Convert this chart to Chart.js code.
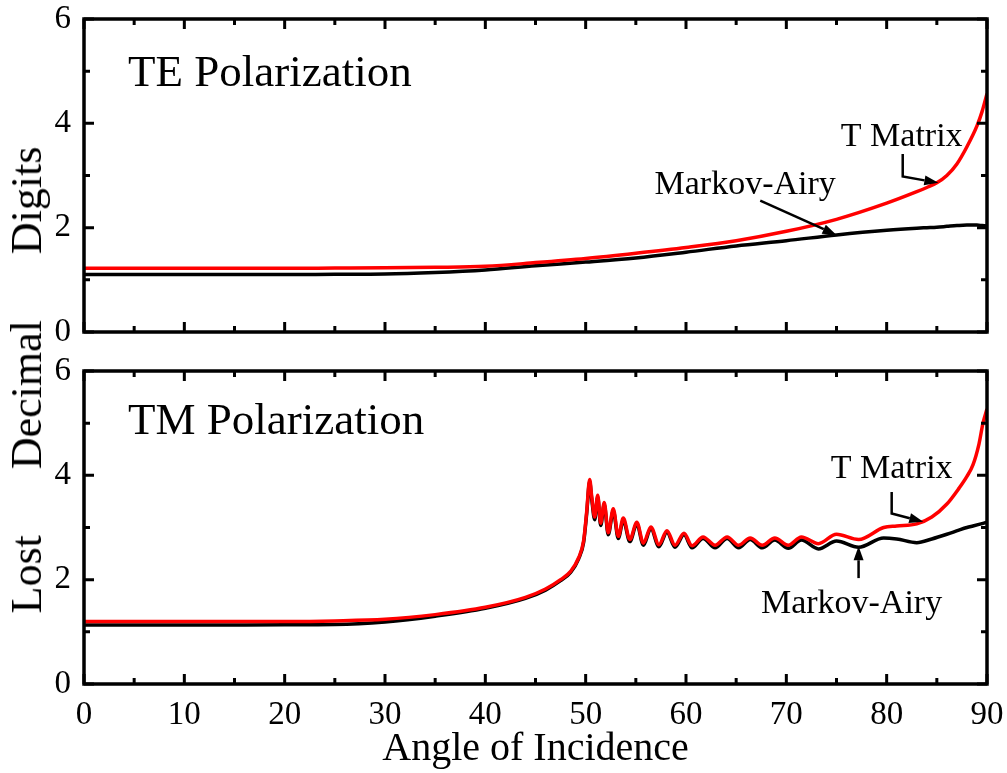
<!DOCTYPE html>
<html lang="en">
<head>
<meta charset="UTF-8">
<title>Lost Decimal Digits vs Angle of Incidence</title>
<script src="https://cdn.jsdelivr.net/npm/chart.js"></script>
<style>
    body { margin: 0; background: #fff; }
    #wrap { position: relative; width: 1007px; height: 773px; }
    .panel { position: absolute; left: 0; width: 1007px; }
    #topPanel { top: 0; height: 350px; }
    #bottomPanel { top: 350px; height: 423px; }
    #ytitle {
        position: absolute; left: 27px; top: 380px;
        font: 44px "Liberation Serif", "Times New Roman", serif;
        line-height: 1; white-space: pre; word-spacing: 55px;
        transform: translate(-50%, -50%) rotate(-90deg);
    }
</style>
</head>
<body>
<div id="wrap">
    <div class="panel" id="topPanel"><canvas id="teChart"></canvas></div>
    <div class="panel" id="bottomPanel"><canvas id="tmChart"></canvas></div>
    <div id="ytitle">Lost Decimal Digits</div>
</div>
<script>
    // TE polarization
    const teAngle   = [0, 10, 20, 25, 30, 35, 40, 45, 50, 55, 60, 65, 70, 75, 80, 83, 84, 85, 86, 87, 88, 89, 89.5, 90];
    const teTMatrix = [1.22, 1.22, 1.22, 1.225, 1.23, 1.24, 1.26, 1.33, 1.41, 1.51, 1.62, 1.75, 1.93, 2.16, 2.47, 2.69, 2.77, 2.86, 3.0, 3.22, 3.55, 3.95, 4.22, 4.57];
    const teMarkov  = [1.1, 1.1, 1.1, 1.105, 1.11, 1.14, 1.19, 1.27, 1.34, 1.42, 1.53, 1.65, 1.75, 1.86, 1.95, 1.99, 2.0, 2.01, 2.025, 2.04, 2.05, 2.05, 2.04, 2.03];

    // TM polarization
    const tmAngle   = [0, 10, 20, 25, 30, 35, 40, 44, 46, 47.5, 48.5, 49.3, 49.8, 50.1, 50.4, 50.6, 50.9, 51.2, 51.5, 51.85,
                       52.25, 52.75, 53.25, 53.75, 54.4, 55.1, 55.75, 56.5, 57.3, 58.1, 58.9, 59.8, 60.6, 61.7, 62.9, 64.1,
                       65.25, 66.4, 67.6, 68.85, 70.2, 71.5, 73.2, 75.0, 77.2, 79.7, 81.0, 83.0, 84.5, 86.0, 87.2, 88.0, 88.6, 89.2, 89.6, 90];
    const tmTMatrix = [1.2, 1.2, 1.2, 1.21, 1.24, 1.33, 1.47, 1.66, 1.82, 2.0, 2.16, 2.42, 2.75, 3.3, 3.92, 3.6, 3.2, 3.62, 3.08, 3.48,
                       2.9, 3.36, 2.83, 3.18, 2.77, 3.1, 2.7, 3.01, 2.67, 2.94, 2.66, 2.89, 2.65, 2.82, 2.66, 2.82,
                       2.66, 2.8, 2.66, 2.8, 2.66, 2.82, 2.69, 2.87, 2.77, 3.0, 3.03, 3.07, 3.2, 3.45, 3.75, 3.98, 4.2, 4.6, 5.0, 5.27];
    const tmMarkov  = [1.13, 1.13, 1.135, 1.14, 1.19, 1.3, 1.45, 1.64, 1.8, 1.98, 2.14, 2.4, 2.72, 3.26, 3.88, 3.55, 3.15, 3.58, 3.04, 3.44,
                       2.86, 3.32, 2.79, 3.14, 2.73, 3.07, 2.66, 2.98, 2.63, 2.91, 2.62, 2.86, 2.61, 2.79, 2.61, 2.79,
                       2.61, 2.77, 2.61, 2.76, 2.6, 2.76, 2.59, 2.74, 2.62, 2.8, 2.78, 2.71, 2.78, 2.87, 2.95, 3.0, 3.03, 3.06, 3.08, 3.1];

    const xTicks = [0, 10, 20, 30, 40, 50, 60, 70, 80, 90];
    const yTicks = [0, 2, 4, 6];

    // callouts: label centre and arrow path in data units (angle, digits)
    const teNotes = [
        { text: 'T Matrix', at: [81.5, 3.74], arrow: [[81.6, 3.41], [81.6, 2.98], [85.15, 2.86]] },
        { text: 'Markov-Airy', at: [65.9, 2.82], arrow: [[67.4, 2.52], [75.0, 1.86]] }
    ];
    const tmNotes = [
        { text: 'T Matrix', at: [80.5, 4.12], arrow: [[80.5, 3.68], [80.5, 3.27], [83.65, 3.11]] },
        { text: 'Markov-Airy', at: [76.5, 1.53], arrow: [[77.2, 2.03], [77.2, 2.64]] }
    ];

    const serif = '"Liberation Serif", "Times New Roman", serif';

    function pts(xs, ys) {
        return xs.map((x, i) => ({ x: x, y: ys[i] }));
    }

    // box frame with inward major/minor ticks on all four sides
    const frameTicks = {
        id: 'frameTicks',
        afterDatasetsDraw(chart) {
            const { ctx, chartArea: a, scales: { x, y } } = chart;
            ctx.save();
            ctx.strokeStyle = '#000';
            ctx.lineWidth = 3;
            ctx.beginPath();
            for (let v = 0; v <= 90; v += 5) {
                const px = x.getPixelForValue(v);
                const len = v % 10 === 0 ? 10 : 6;
                ctx.moveTo(px, a.bottom); ctx.lineTo(px, a.bottom - len);
                ctx.moveTo(px, a.top); ctx.lineTo(px, a.top + len);
            }
            for (let v = 0; v <= 6; v += 1) {
                const py = y.getPixelForValue(v);
                const len = v % 2 === 0 ? 10 : 6;
                ctx.moveTo(a.left, py); ctx.lineTo(a.left + len, py);
                ctx.moveTo(a.right, py); ctx.lineTo(a.right - len, py);
            }
            ctx.stroke();
            ctx.lineWidth = 3.5;
            ctx.strokeRect(a.left, a.top, a.right - a.left, a.bottom - a.top);
            ctx.restore();
        }
    };

    // panel title plus labelled arrows
    const callouts = {
        id: 'callouts',
        afterDraw(chart, args, opts) {
            const { ctx, chartArea: a, scales: { x, y } } = chart;
            ctx.save();
            ctx.fillStyle = '#000';
            ctx.font = '45px ' + serif;
            ctx.textAlign = 'left';
            ctx.textBaseline = 'alphabetic';
            ctx.fillText(opts.title, a.left + 44, a.top + opts.titleDy);

            ctx.font = '34px ' + serif;
            ctx.textAlign = 'center';
            ctx.textBaseline = 'middle';
            ctx.strokeStyle = '#000';
            ctx.lineWidth = 2.5;
            opts.notes.forEach(n => {
                ctx.fillText(n.text, x.getPixelForValue(n.at[0]), y.getPixelForValue(n.at[1]));
                const p = n.arrow.map(q => [x.getPixelForValue(q[0]), y.getPixelForValue(q[1])]);
                const tip = p[p.length - 1], prev = p[p.length - 2];
                const ang = Math.atan2(tip[1] - prev[1], tip[0] - prev[0]);
                const hl = 14, hw = 5;
                const bx = tip[0] - hl * Math.cos(ang), by = tip[1] - hl * Math.sin(ang);
                ctx.beginPath();
                ctx.moveTo(p[0][0], p[0][1]);
                for (let i = 1; i < p.length - 1; i++) ctx.lineTo(p[i][0], p[i][1]);
                ctx.lineTo(bx, by);
                ctx.stroke();
                ctx.beginPath();
                ctx.moveTo(tip[0], tip[1]);
                ctx.lineTo(bx + hw * Math.sin(ang), by - hw * Math.cos(ang));
                ctx.lineTo(bx - hw * Math.sin(ang), by + hw * Math.cos(ang));
                ctx.closePath();
                ctx.fill();
            });
            ctx.restore();
        }
    };

    function makeChart(id, angle, tMatrix, markov, opts) {
        const ctx = document.getElementById(id).getContext('2d');
        return new Chart(ctx, {
            type: 'line',
            data: {
                datasets: [{
                    label: 'T Matrix',
                    data: pts(angle, tMatrix),
                    borderColor: '#ff0000',
                    borderWidth: 3.5,
                    order: 0
                }, {
                    label: 'Markov-Airy',
                    data: pts(angle, markov),
                    borderColor: '#000000',
                    borderWidth: 3.5,
                    order: 1
                }]
            },
            options: {
                responsive: true,
                maintainAspectRatio: false,
                animation: false,
                events: [],
                layout: { padding: { top: opts.padTop, bottom: opts.padBottom, left: 0, right: 20 } },
                elements: {
                    point: { radius: 0 },
                    line: { cubicInterpolationMode: 'monotone', fill: false }
                },
                plugins: {
                    legend: { display: false },
                    tooltip: { enabled: false },
                    callouts: { title: opts.title, titleDy: opts.titleDy, notes: opts.notes }
                },
                scales: {
                    x: {
                        type: 'linear',
                        min: 0, max: 90,
                        display: opts.showX,
                        grid: { display: false, drawTicks: false },
                        border: { display: false },
                        afterBuildTicks: s => { s.ticks = xTicks.map(v => ({ value: v })); },
                        ticks: { color: '#000', font: { family: serif, size: 33 }, padding: 12, maxRotation: 0 },
                        title: {
                            display: opts.showX,
                            text: 'Angle of Incidence',
                            color: '#000',
                            font: { family: serif, size: 40 },
                            padding: { top: 0, bottom: 0 }
                        },
                        afterFit: s => { s.height = opts.showX ? 89 : 0; s.paddingLeft = 0; s.paddingRight = 0; }
                    },
                    y: {
                        type: 'linear',
                        min: 0, max: 6,
                        grid: { display: false, drawTicks: false },
                        border: { display: false },
                        afterBuildTicks: s => { s.ticks = yTicks.map(v => ({ value: v })); },
                        ticks: { color: '#000', font: { family: serif, size: 33 }, padding: 13 },
                        afterFit: s => { s.width = 84; s.paddingTop = 0; s.paddingBottom = 0; }
                    }
                }
            },
            plugins: [frameTicks, callouts]
        });
    }

    makeChart('teChart', teAngle, teTMatrix, teMarkov, {
        padTop: 19, padBottom: 18, showX: false,
        title: 'TE Polarization', titleDy: 67, notes: teNotes
    });
    makeChart('tmChart', tmAngle, tmTMatrix, tmMarkov, {
        padTop: 21, padBottom: 0, showX: true,
        title: 'TM Polarization', titleDy: 63, notes: tmNotes
    });
</script>
</body>
</html>
